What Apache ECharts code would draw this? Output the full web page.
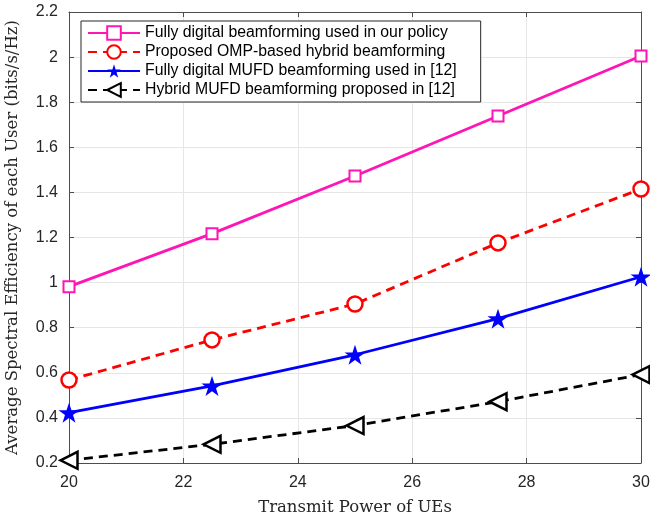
<!DOCTYPE html>
<html><head><meta charset="utf-8">
<script src="https://cdn.jsdelivr.net/npm/echarts@6/dist/echarts.min.js"></script>
<style>html,body{margin:0;padding:0;background:#fff}#c{width:650px;height:516px}</style>
</head><body><div id="c"></div>
<script>
var xValues = [20, 22.5, 25, 27.5, 30];
var seriesNames = [
  'Fully digital beamforming used in our policy',
  'Proposed OMP-based hybrid beamforming',
  'Fully digital MUFD beamforming used in [12]',
  'Hybrid MUFD beamforming proposed in [12]'
];
var fullyDigital = [0.982, 1.217, 1.473, 1.739, 2.005];
var proposedOMP = [0.568, 0.746, 0.905, 1.176, 1.415];
var mufdDigital = [0.423, 0.542, 0.680, 0.840, 1.026];
var mufdHybrid = [0.212, 0.283, 0.366, 0.472, 0.592];
var xTicks = [20, 22, 24, 26, 28, 30];
var yTicks = [0.2, 0.4, 0.6, 0.8, 1, 1.2, 1.4, 1.6, 1.8, 2, 2.2];

var star = 'path://M0,-100 L22.45,-30.9 L95.1,-30.9 L36.3,11.8 L58.8,80.9 L0,38.2 L-58.8,80.9 L-36.3,11.8 L-95.1,-30.9 L-22.45,-30.9 Z';

function pairs(v){ return xValues.map(function(x,i){return [x, v[i]];}); }

var axisCol = '#4d4d4d';
var chart = echarts.init(document.getElementById('c'));
chart.setOption({
  animation: false,
  backgroundColor: '#fff',
  grid: {left: 69, right: 9, top: 12, bottom: 53, containLabel: false, outerBoundsMode: 'none'},
  legend: {
    orient: 'vertical', left: 81, top: 21,
    padding: [4, 24, 4, 6], itemGap: 3, itemWidth: 52, itemHeight: 17,
    backgroundColor: '#fff', borderColor: '#262626', borderWidth: 1,
    textStyle: {fontFamily: 'Liberation Sans, Arial', fontSize: 15.8, color: '#000'},
    data: seriesNames
  },
  xAxis: [{
    type: 'value', min: 20, max: 30, interval: 2,
    name: 'Transmit Power of UEs', nameLocation: 'middle', nameGap: 36,
    nameTextStyle: {fontFamily: 'DejaVu Serif', fontSize: 16.5, color: '#262626'},
    axisLine: {show: true, lineStyle: {color: axisCol, width: 1}},
    axisTick: {show: true, inside: true, length: 5, lineStyle: {color: axisCol}},
    axisLabel: {margin: 12, fontFamily: 'Liberation Sans, Arial', fontSize: 16, color: '#262626',
      formatter: function(v){ return xTicks.indexOf(v) >= 0 ? String(v) : ''; }},
    splitLine: {show: true, lineStyle: {color: '#e6e6e6', width: 1}}
  }, {
    type: 'value', position: 'top', min: 20, max: 30, interval: 2,
    axisLine: {show: true, lineStyle: {color: axisCol, width: 1}},
    axisTick: {show: true, inside: true, length: 5, lineStyle: {color: axisCol}},
    axisLabel: {show: false}, splitLine: {show: false}
  }],
  yAxis: [{
    type: 'value', min: 0.2, max: 2.2, interval: 0.2,
    name: 'Average Spectral Efficiency of each User (bits/s/Hz)', nameLocation: 'middle', nameGap: 48,
    nameTextStyle: {fontFamily: 'DejaVu Serif', fontSize: 16.5, color: '#262626'},
    axisLine: {show: true, lineStyle: {color: axisCol, width: 1}},
    axisTick: {show: true, inside: true, length: 5, lineStyle: {color: axisCol}},
    axisLabel: {margin: 11, fontFamily: 'Liberation Sans, Arial', fontSize: 16, color: '#262626',
      formatter: function(v){ var r = Math.round(v*10)/10; return yTicks.indexOf(r) >= 0 ? String(r) : ''; }},
    splitLine: {show: true, lineStyle: {color: '#e6e6e6', width: 1}}
  }, {
    type: 'value', position: 'right', min: 0.2, max: 2.2, interval: 0.2,
    axisLine: {show: true, lineStyle: {color: axisCol, width: 1}},
    axisTick: {show: true, inside: true, length: 5, lineStyle: {color: axisCol}},
    axisLabel: {show: false}, splitLine: {show: false}
  }],
  series: [
    {name: seriesNames[0], type: 'line', data: pairs(fullyDigital),
     lineStyle: {color: '#ff14b4', width: 2.8}, symbol: 'rect', symbolSize: 11, showAllSymbol: true,
     itemStyle: {color: '#fff', borderColor: '#ff14b4', borderWidth: 2}, color: '#ff14b4', z: 5},
    {name: seriesNames[1], type: 'line', data: pairs(proposedOMP),
     lineStyle: {color: '#ff0000', width: 2.8, type: [9, 6]}, symbol: 'circle', symbolSize: 15,
     itemStyle: {color: '#fff', borderColor: '#ff0000', borderWidth: 2.5}, color: '#ff0000', z: 4},
    {name: seriesNames[2], type: 'line', data: pairs(mufdDigital),
     lineStyle: {color: '#0000ff', width: 2.8}, symbol: star, symbolSize: [21, 20],
     itemStyle: {color: '#0000ff', borderColor: '#0000ff', borderWidth: 0}, color: '#0000ff', z: 3},
    {name: seriesNames[3], type: 'line', data: pairs(mufdHybrid),
     lineStyle: {color: '#000', width: 2.8, type: [9, 6]}, symbol: 'triangle', symbolSize: [17, 17], symbolRotate: 90,
     itemStyle: {color: '#fff', borderColor: '#000', borderWidth: 2.5}, color: '#000', z: 2}
  ]
});
</script></body></html>
